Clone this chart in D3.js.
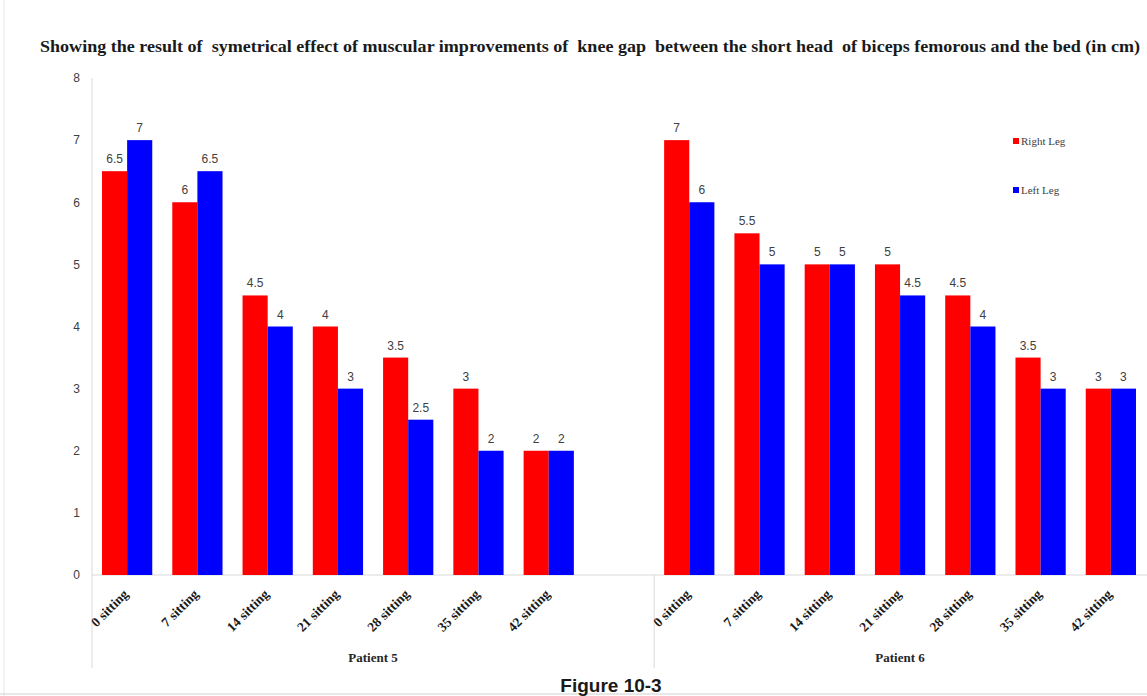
<!DOCTYPE html>
<html><head><meta charset="utf-8">
<script src="https://cdn.jsdelivr.net/npm/d3@7"></script>
<style>body{margin:0;background:#fff}svg{display:block}text{white-space:pre}</style>
</head><body>
<svg id="c" width="1147" height="696"></svg>
<script>
const title = "Showing the result of  symetrical effect of muscular improvements of  knee gap  between the short head  of biceps femorous and the bed (in cm)";
const groups = ["Patient 5", "Patient 6"];
const sittings = ["0 sitting","7 sitting","14 sitting","21 sitting","28 sitting","35 sitting","42 sitting"];
const seriesNames = ["Right Leg","Left Leg"];
const seriesColors = ["#ff0000","#0000ff"];
const p5Right = [6.5, 6, 4.5, 4, 3.5, 3, 2];
const p5Left  = [7, 6.5, 4, 3, 2.5, 2, 2];
const p6Right = [7, 5.5, 5, 5, 4.5, 3.5, 3];
const p6Left  = [6, 5, 5, 4.5, 4, 3, 3];
const yTicks = [0,1,2,3,4,5,6,7,8];

const slots = [];
sittings.forEach((s,i)=>slots.push({key:"P5|"+s, group:0, label:s, vals:[p5Right[i],p5Left[i]]}));
slots.push({key:"P5|blank", group:0, label:"", vals:null});
sittings.forEach((s,i)=>slots.push({key:"P6|"+s, group:1, label:s, vals:[p6Right[i],p6Left[i]]}));

const svg = d3.select("#c");
const L = 92, R = 1146, T = 78, B = 575;
const x = d3.scaleBand().domain(slots.map(d=>d.key)).range([L,R]).paddingInner(0.285).paddingOuter(0.1425);
const y = d3.scaleLinear().domain([0,8]).range([B,T]);
const xs = d3.scaleBand().domain(seriesNames).range([0,x.bandwidth()]);

svg.append("line").attr("x1",4).attr("x2",4).attr("y1",0).attr("y2",696).attr("stroke","#e6e6e6");
svg.append("line").attr("x1",0).attr("x2",1147).attr("y1",694).attr("y2",694).attr("stroke","#d0d0d0");

svg.append("text").attr("x",40).attr("y",52).attr("textLength",1100).attr("lengthAdjust","spacingAndGlyphs")
  .attr("font-family","Liberation Serif, serif").attr("font-weight","bold").attr("font-size",17).attr("fill","#1a1a1a")
  .text(title);

const yAxis = d3.axisLeft(y).tickValues(yTicks).tickSize(0).tickPadding(12);
const gy = svg.append("g").attr("transform",`translate(${L},0)`).call(yAxis);
gy.select(".domain").remove();
gy.selectAll("text").attr("font-family","Liberation Sans Narrow, Liberation Sans, sans-serif").attr("font-size",12).attr("fill","#404040");
svg.append("line").attr("x1",L).attr("x2",L).attr("y1",T).attr("y2",668).attr("stroke","#d9d9d9");
svg.append("line").attr("x1",L).attr("x2",R+1).attr("y1",B).attr("y2",B).attr("stroke","#d9d9d9");
const divX = (x("P5|blank")+x.bandwidth()+x("P6|0 sitting"))/2;
svg.append("line").attr("x1",divX).attr("x2",divX).attr("y1",B).attr("y2",668).attr("stroke","#d9d9d9");

const data = slots.filter(d=>d.vals);
const g = svg.append("g");
data.forEach(d=>{
  d.vals.forEach((v,j)=>{
    const bx = x(d.key)+xs(seriesNames[j]);
    g.append("rect").attr("x",bx).attr("y",y(v)).attr("width",xs.bandwidth()).attr("height",y(0)-y(v)).attr("fill",seriesColors[j]);
    g.append("text").attr("x",bx+xs.bandwidth()/2).attr("y",y(v)-8).attr("text-anchor","middle")
      .attr("font-family","Liberation Sans Narrow, Liberation Sans, sans-serif").attr("font-size",12).attr("fill","#404040").text(v);
  });
});

data.forEach(d=>{
  const cx = x(d.key)+x.bandwidth()/2+2;
  svg.append("text").attr("transform",`translate(${cx},${B+20}) rotate(-45)`).attr("text-anchor","end")
    .attr("font-family","Liberation Serif, serif").attr("font-weight","bold").attr("font-size",13.5).attr("fill","#1a1a1a")
    .text(d.label);
});

groups.forEach((gname,gi)=>{
  const x0 = gi===0 ? L : divX;
  const x1 = gi===0 ? divX : R;
  svg.append("text").attr("x",(x0+x1)/2).attr("y",662).attr("text-anchor","middle")
    .attr("font-family","Liberation Serif, serif").attr("font-weight","bold").attr("font-size",13).attr("fill","#262626").text(gname);
});

svg.append("text").attr("x",611).attr("y",692).attr("text-anchor","middle")
  .attr("font-family","Liberation Sans Narrow, Liberation Sans, sans-serif").attr("font-weight","bold").attr("font-size",19).attr("fill","#1a1a1a").text("Figure 10-3");

seriesNames.forEach((s,i)=>{
  const ly = 142 + i*49;
  svg.append("rect").attr("x",1013).attr("y",ly-4).attr("width",6).attr("height",6).attr("fill",seriesColors[i]);
  svg.append("text").attr("x",1021).attr("y",ly+3).attr("font-family","Liberation Serif, serif").attr("font-size",11)
    .attr("fill","#404040").text(s);
});
</script>
</body></html>
